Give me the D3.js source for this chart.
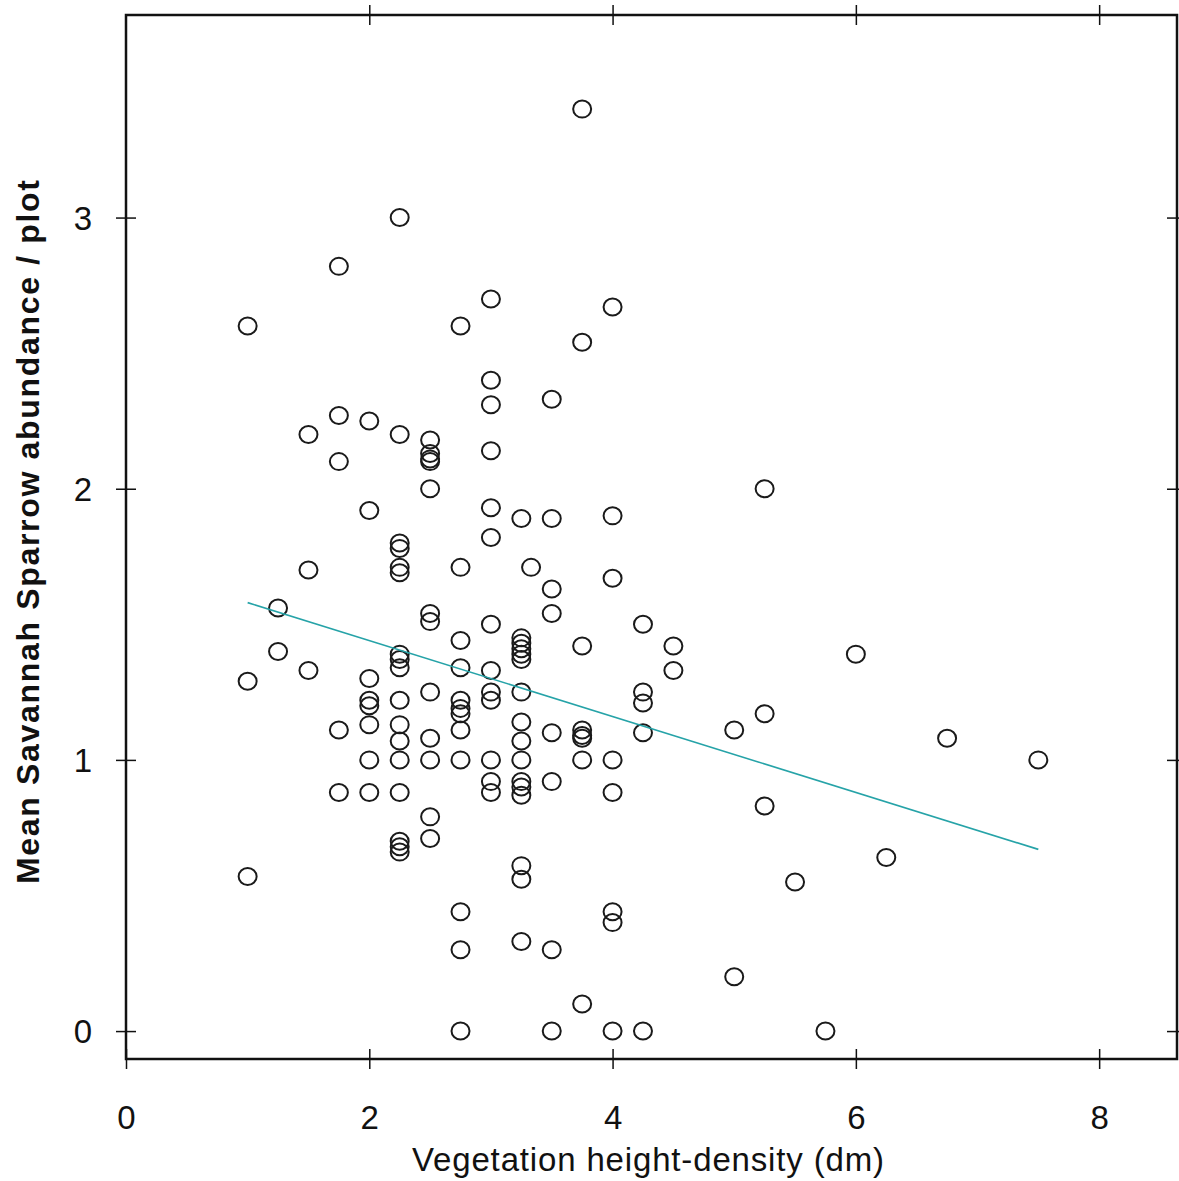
<!DOCTYPE html>
<html>
<head>
<meta charset="utf-8">
<script src="https://cdn.jsdelivr.net/npm/d3@7"></script>
<style>
  body { margin: 0; background: #fff; }
  text { font-family: "Liberation Sans", Arial, sans-serif; fill: #111; }
</style>
</head>
<body>
<svg id="chart" width="1179" height="1181"></svg>
<script>
// vegetation height-density columns (dm) and the abundances plotted at each
const heightCols = [1, 1.25, 1.5, 1.75, 2, 2.25, 2.5, 2.75, 3, 3.25, 3.33, 3.5, 3.75, 4, 4.25, 4.5, 5, 5.25, 5.5, 5.75, 6, 6.25, 6.75, 7.5];
const abundanceCols = [
    [2.60, 1.29, 0.57],
    [1.56, 1.40],
    [2.20, 1.70, 1.33],
    [2.82, 2.27, 2.10, 1.11, 0.88],
    [2.25, 1.92, 1.30, 1.22, 1.20, 1.13, 1.00, 0.88],
    [3.00, 2.20, 1.80, 1.78, 1.71, 1.69, 1.39, 1.37, 1.34, 1.22, 1.13, 1.07, 1.00, 0.88, 0.70, 0.68, 0.66],
    [2.18, 2.13, 2.11, 2.10, 2.00, 1.54, 1.51, 1.25, 1.08, 1.00, 0.79, 0.71],
    [2.60, 1.71, 1.44, 1.34, 1.22, 1.19, 1.17, 1.11, 1.00, 0.44, 0.30, 0.00],
    [2.70, 2.40, 2.31, 2.14, 1.93, 1.82, 1.50, 1.33, 1.25, 1.22, 1.00, 0.92, 0.88],
    [1.89, 1.45, 1.43, 1.41, 1.39, 1.37, 1.25, 1.14, 1.07, 1.00, 0.92, 0.90, 0.87, 0.61, 0.56, 0.33],
    [1.71],
    [2.33, 1.89, 1.63, 1.54, 1.10, 0.92, 0.30, 0.00],
    [3.40, 2.54, 1.42, 1.11, 1.09, 1.08, 1.00, 0.10],
    [2.67, 1.90, 1.67, 1.00, 0.88, 0.44, 0.40, 0.00],
    [1.50, 1.25, 1.21, 1.10, 0.00],
    [1.42, 1.33],
    [1.11, 0.20],
    [2.00, 1.17, 0.83],
    [0.55],
    [0.00],
    [1.39],
    [0.64],
    [1.08],
    [1.00]
];
// fitted regression line end points
const fitX = [1, 7.5];
const fitY = [1.58, 0.67];

const xTicks = [0, 2, 4, 6, 8];
const yTicks = [0, 1, 2, 3];

const points = [];
heightCols.forEach((h, i) => {
    abundanceCols[i].forEach(a => points.push({ x: h, y: a }));
});

const svg = d3.select("#chart");
const plotLeft = 126, plotRight = 1177, plotTop = 15, plotBottom = 1059;

const xScale = d3.scaleLinear().domain([0, 8.64]).range([plotLeft, plotRight]);
const yScale = d3.scaleLinear().domain([-0.103, 3.747]).range([plotBottom, plotTop]);

// tick marks crossing the frame on all four sides
const tickLen = 10;
svg.append("g")
    .attr("transform", `translate(0, ${plotBottom})`)
    .call(d3.axisBottom(xScale).tickValues(xTicks).tickSize(tickLen).tickSizeOuter(0).tickPadding(48).tickFormat(d3.format("d")))
    .call(g => g.select(".domain").remove())
    .call(g => g.selectAll(".tick line").attr("y1", -tickLen).attr("stroke", "#111").attr("stroke-width", 1.5))
    .call(g => g.selectAll(".tick text").style("font-size", "33px").attr("dy", "0.36em"));

svg.append("g")
    .attr("transform", `translate(${plotLeft}, 0)`)
    .call(d3.axisLeft(yScale).tickValues(yTicks).tickSize(tickLen).tickSizeOuter(0).tickPadding(24).tickFormat(d3.format("d")))
    .call(g => g.select(".domain").remove())
    .call(g => g.selectAll(".tick line").attr("x1", tickLen).attr("stroke", "#111").attr("stroke-width", 1.5))
    .call(g => g.selectAll(".tick text").style("font-size", "33px").attr("dy", "0.36em"));

svg.append("g")
    .attr("transform", `translate(0, ${plotTop})`)
    .call(d3.axisTop(xScale).tickValues(xTicks.filter(d => d > 0)).tickSize(tickLen).tickSizeOuter(0).tickFormat(""))
    .call(g => g.select(".domain").remove())
    .call(g => g.selectAll(".tick line").attr("y1", tickLen).attr("stroke", "#111").attr("stroke-width", 1.5));

svg.append("g")
    .attr("transform", `translate(${plotRight}, 0)`)
    .call(d3.axisRight(yScale).tickValues(yTicks).tickSize(tickLen).tickSizeOuter(0).tickFormat(""))
    .call(g => g.select(".domain").remove())
    .call(g => g.selectAll(".tick line").attr("x1", -tickLen).attr("stroke", "#111").attr("stroke-width", 1.5));

// frame
svg.append("rect")
    .attr("x", plotLeft).attr("y", plotTop)
    .attr("width", plotRight - plotLeft).attr("height", plotBottom - plotTop)
    .attr("fill", "none").attr("stroke", "#111").attr("stroke-width", 2.5);

// points
svg.selectAll(".pt")
    .data(points)
    .enter().append("ellipse")
    .attr("class", "pt")
    .attr("cx", d => xScale(d.x))
    .attr("cy", d => yScale(d.y))
    .attr("rx", 9)
    .attr("ry", 8.5)
    .attr("fill", "none")
    .attr("stroke", "#1a1a1a")
    .attr("stroke-width", 2);

// regression line
svg.append("path")
    .datum(fitX.map((x, i) => [x, fitY[i]]))
    .attr("fill", "none")
    .attr("stroke", "#26a3a8")
    .attr("stroke-width", 1.6)
    .attr("d", d3.line().x(d => xScale(d[0])).y(d => yScale(d[1])));

// axis titles
svg.append("text")
    .attr("x", 648)
    .attr("y", 1171)
    .style("text-anchor", "middle")
    .style("font-size", "33px")
    .attr("textLength", 472)
    .attr("lengthAdjust", "spacing")
    .text("Vegetation height-density (dm)");

svg.append("text")
    .attr("transform", "translate(39, 532) rotate(-90)")
    .style("text-anchor", "middle")
    .style("font-size", "32px")
    .style("font-weight", "bold")
    .attr("textLength", 704)
    .attr("lengthAdjust", "spacing")
    .text("Mean Savannah Sparrow abundance / plot");
</script>
</body>
</html>
